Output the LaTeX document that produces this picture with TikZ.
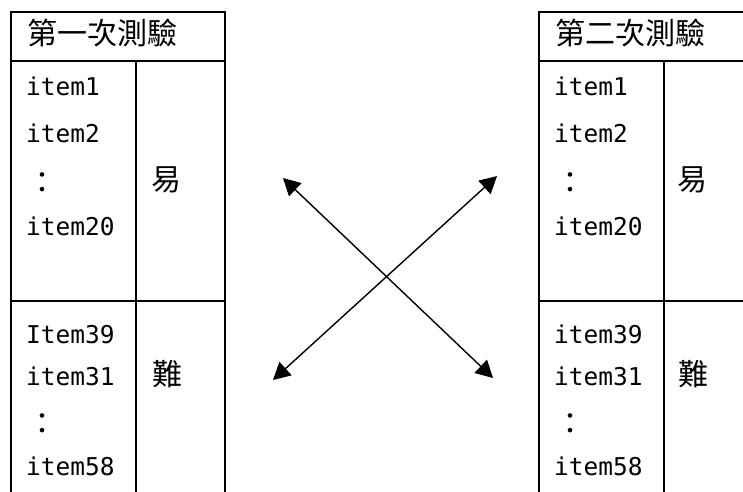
\documentclass[tikz,border=0pt]{standalone}
\usepackage{fontspec}
\newfontfamily\cjk{Noto Sans CJK TC}
\newfontfamily\mono{DejaVu Sans Mono}
\usetikzlibrary{arrows.meta}
\begin{document}
\begin{tikzpicture}[x=1pt,y=-1pt,
  grid/.style={line width=2pt,line cap=rect},
  itemtxt/.style={anchor=base west,inner sep=0pt,font=\mono\fontsize{24.5}{24.5}\selectfont},
  cjktxt/.style={inner sep=0pt,font=\cjk\fontsize{30}{30}\selectfont},
  conn/.style={line width=1.4pt,{Triangle[length=17pt,width=18pt]}-{Triangle[length=17pt,width=18pt]}}]
\useasboundingbox (0,0) rectangle (743,491);
% left table
\draw[grid] (11,491) -- (11,12) -- (225,12) -- (225,491);
\draw[grid] (11,61) -- (225,61);
\draw[grid] (11,301) -- (225,301);
\draw[grid] (136,61) -- (136,491);
% right table
\draw[grid] (539,491) -- (539,12) -- (743,12);
\draw[grid] (539,61) -- (743,61);
\draw[grid] (539,301) -- (743,301);
\draw[grid] (664,61) -- (664,491);
% headers
\node[cjktxt,anchor=base west] (h1) at (27,44) {第一次測驗};
\node[cjktxt,anchor=base west] (h2) at (555,44) {第二次測驗};
% left items
\node[itemtxt] (l1) at (26,95) {item1};
\node[itemtxt] (l2) at (26,142) {item2};
\node[cjktxt] (l3) at (42,183) {：};
\node[itemtxt] (l4) at (26,235) {item20};
\node[cjktxt] (le) at (166,180) {易};
\node[itemtxt] (l5) at (26,343) {Item39};
\node[itemtxt] (l6) at (26,385) {item31};
\node[cjktxt] (l7) at (42,424) {：};
\node[itemtxt] (l8) at (26,475) {item58};
\node[cjktxt] (lh) at (167,374) {難};
% right items
\node[itemtxt] (r1) at (554,95) {item1};
\node[itemtxt] (r2) at (554,142) {item2};
\node[cjktxt] (r3) at (570,183) {：};
\node[itemtxt] (r4) at (554,235) {item20};
\node[cjktxt] (re) at (692,180) {易};
\node[itemtxt] (r5) at (554,343) {item39};
\node[itemtxt] (r6) at (554,385) {item31};
\node[cjktxt] (r7) at (570,424) {：};
\node[itemtxt] (r8) at (554,475) {item58};
\node[cjktxt] (rh) at (693,374) {難};
% arrows
\coordinate (a1) at (283,178);
\coordinate (a2) at (493,378);
\coordinate (b1) at (273,380);
\coordinate (b2) at (497,176);
\draw[conn] (a1) -- (a2);
\draw[conn] (b1) -- (b2);
\end{tikzpicture}
\end{document}
